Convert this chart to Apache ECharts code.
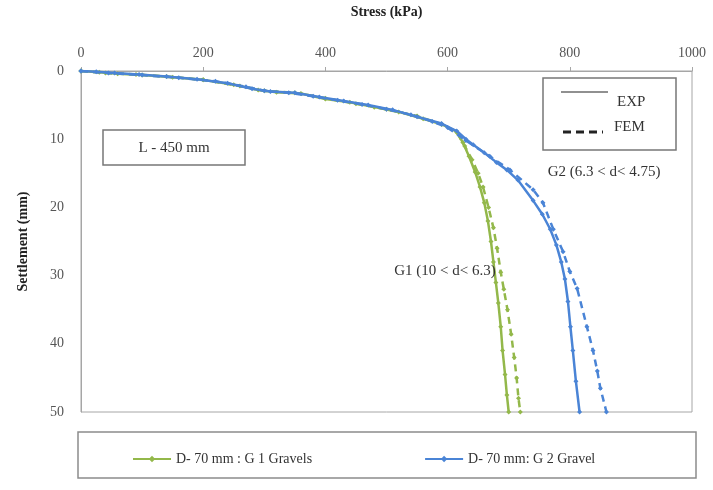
<!DOCTYPE html>
<html>
<head>
<meta charset="utf-8">
<script src="https://cdn.jsdelivr.net/npm/echarts@6/dist/echarts.min.js"></script>
<style>
html,body{margin:0;padding:0;background:#fff;}
#c{width:713px;height:490px;}
</style>
</head>
<body>
<div id="c"></div>
<script>
// Axis ticks
var xTicks = [0, 200, 400, 600, 800, 1000];
var yTicks = [0, 10, 20, 30, 40, 50];

// G1 experimental (stress kPa, settlement mm)
var g1ExpStress = [0, 30, 60, 100, 150, 200, 250, 290, 320, 360, 400, 440, 480, 520, 560, 590, 615, 625, 635, 645, 653, 660, 666, 671, 675, 679, 683, 687, 690, 694, 697, 700];
var g1ExpSettle = [0, 0.2, 0.4, 0.6, 0.9, 1.3, 2.0, 2.8, 3.1, 3.3, 4.1, 4.6, 5.3, 6.0, 7.0, 7.8, 8.9, 10.5, 12.5, 14.8, 17.0, 19.3, 22.0, 25.0, 28.0, 31.0, 34.0, 37.5, 41.0, 44.5, 47.5, 50.0];

// G1 FEM
var g1FemStress = [0, 40, 90, 140, 200, 260, 300, 350, 400, 450, 500, 550, 590, 615, 628, 640, 650, 658, 667, 675, 681, 687, 692, 698, 704, 709, 713, 716, 719];
var g1FemSettle = [0, 0.3, 0.5, 0.8, 1.3, 2.2, 2.9, 3.2, 4.0, 4.8, 5.6, 6.6, 7.8, 9.0, 11.0, 13.0, 15.0, 17.0, 20.0, 23.0, 26.0, 29.5, 32.0, 35.0, 38.6, 42.0, 45.0, 48.0, 50.0];

// G2 experimental
var g2ExpStress = [0, 25, 55, 95, 140, 190, 240, 280, 310, 350, 390, 430, 470, 510, 550, 590, 615, 630, 642, 660, 680, 697, 715, 740, 755, 768, 778, 786, 792, 797, 801, 805, 810, 816];
var g2ExpSettle = [0, 0.1, 0.3, 0.5, 0.8, 1.2, 1.8, 2.6, 3.0, 3.2, 3.8, 4.4, 5.0, 5.7, 6.7, 7.7, 8.8, 10.0, 10.8, 12.0, 13.4, 14.5, 16.0, 19.0, 21.0, 23.2, 25.5, 28.0, 30.5, 33.8, 37.5, 41.0, 45.5, 50.0];

// G2 FEM
var g2FemStress = [0, 45, 100, 160, 220, 270, 300, 340, 380, 420, 460, 500, 540, 575, 600, 630, 669, 702, 740, 756, 773, 789, 800, 812, 828, 838, 845, 850, 860];
var g2FemSettle = [0, 0.3, 0.6, 1.0, 1.5, 2.3, 2.9, 3.2, 3.7, 4.3, 4.9, 5.6, 6.4, 7.4, 8.3, 10.2, 12.5, 14.5, 17.4, 19.3, 23.2, 26.5, 29.4, 31.9, 37.5, 41.0, 44.0, 46.5, 50.0];

var seriesNames = ['D- 70 mm : G 1 Gravels', 'D- 70 mm: G 2 Gravel'];
var green = '#93b84a';
var blue = '#4a84d6';

function pairs(xs, ys) {
  var out = [];
  for (var i = 0; i < xs.length; i++) out.push([xs[i], ys[i]]);
  return out;
}

var serif = '"Liberation Serif", "DejaVu Serif", serif';
var chart = echarts.init(document.getElementById('c'), null, {renderer: 'canvas'});

function mkSeries(name, data, color, dashed, z) {
  return {
    name: name,
    type: 'line',
    data: data,
    symbol: 'diamond',
    symbolSize: 5,
    showSymbol: true,
    z: z,
    itemStyle: {color: color},
    lineStyle: {color: color, width: 2.5, type: dashed ? [7, 5] : 'solid'},
    animation: false
  };
}

chart.setOption({
  backgroundColor: '#fff',
  animation: false,
  textStyle: {fontFamily: serif},
  grid: {left: 81, right: 21, top: 67, bottom: 78, show: true, borderColor: '#a6a6a6', borderWidth: 1},
  xAxis: {
    type: 'value', position: 'top', min: xTicks[0], max: xTicks[xTicks.length - 1], interval: 200,
    name: 'Stress (kPa)', nameLocation: 'middle', nameGap: 52,
    nameTextStyle: {fontFamily: serif, fontWeight: 'bold', fontSize: 14, color: '#222'},
    axisLine: {show: true, lineStyle: {color: '#a6a6a6'}},
    axisTick: {show: true, length: 4, lineStyle: {color: '#a6a6a6'}},
    axisLabel: {fontFamily: serif, fontSize: 14, color: '#555', margin: 11, formatter: function (v) { return String(v); }},
    splitLine: {show: false}
  },
  yAxis: {
    type: 'value', inverse: true, min: yTicks[0], max: yTicks[yTicks.length - 1], interval: 10,
    name: 'Settlement (mm)', nameLocation: 'middle', nameGap: 51,
    nameTextStyle: {fontFamily: serif, fontWeight: 'bold', fontSize: 14, color: '#222'},
    axisLine: {show: true, lineStyle: {color: '#a6a6a6'}},
    axisTick: {show: false},
    axisLabel: {fontFamily: serif, fontSize: 14, color: '#555', margin: 17},
    splitLine: {show: false}
  },
  legend: {
    data: seriesNames,
    left: 127, top: 447,
    itemGap: 112, itemWidth: 38, itemHeight: 8,
    textStyle: {fontFamily: serif, fontSize: 14, color: '#333'}
  },
  series: [
    mkSeries(seriesNames[0], pairs(g1ExpStress, g1ExpSettle), green, false, 3),
    mkSeries('G1 FEM', pairs(g1FemStress, g1FemSettle), green, true, 2),
    mkSeries(seriesNames[1], pairs(g2ExpStress, g2ExpSettle), blue, false, 5),
    mkSeries('G2 FEM', pairs(g2FemStress, g2FemSettle), blue, true, 4)
  ],
  graphic: [
    {type: 'rect', shape: {x: 78, y: 432, width: 618, height: 46}, style: {fill: 'none', stroke: '#8c8c8c', lineWidth: 1.5}, z: 0},
    {type: 'rect', shape: {x: 103, y: 130, width: 142, height: 35}, style: {fill: '#fff', stroke: '#777', lineWidth: 1.5}, z: 10},
    {type: 'text', x: 174, y: 148, style: {text: 'L - 450 mm', font: '15px ' + serif, fill: '#333', align: 'center', verticalAlign: 'middle'}, z: 11},
    {type: 'rect', shape: {x: 543, y: 78, width: 133, height: 72}, style: {fill: '#fff', stroke: '#777', lineWidth: 1.5}, z: 10},
    {type: 'line', shape: {x1: 561, y1: 92, x2: 608, y2: 92}, style: {stroke: '#222', lineWidth: 1.2}, z: 11},
    {type: 'text', x: 617, y: 102, style: {text: 'EXP', font: '15px ' + serif, fill: '#333', verticalAlign: 'middle'}, z: 11},
    {type: 'line', shape: {x1: 563, y1: 132, x2: 603, y2: 132}, style: {stroke: '#222', lineWidth: 3, lineDash: [8, 5]}, z: 11},
    {type: 'text', x: 614, y: 127, style: {text: 'FEM', font: '15px ' + serif, fill: '#333', verticalAlign: 'middle'}, z: 11},
    {type: 'text', x: 604, y: 172, style: {text: 'G2 (6.3 < d< 4.75)', font: '15px ' + serif, fill: '#333', align: 'center', verticalAlign: 'middle'}, z: 11},
    {type: 'text', x: 445, y: 271, style: {text: 'G1 (10 < d< 6.3)', font: '15px ' + serif, fill: '#333', align: 'center', verticalAlign: 'middle'}, z: 11}
  ]
});
</script>
</body>
</html>
